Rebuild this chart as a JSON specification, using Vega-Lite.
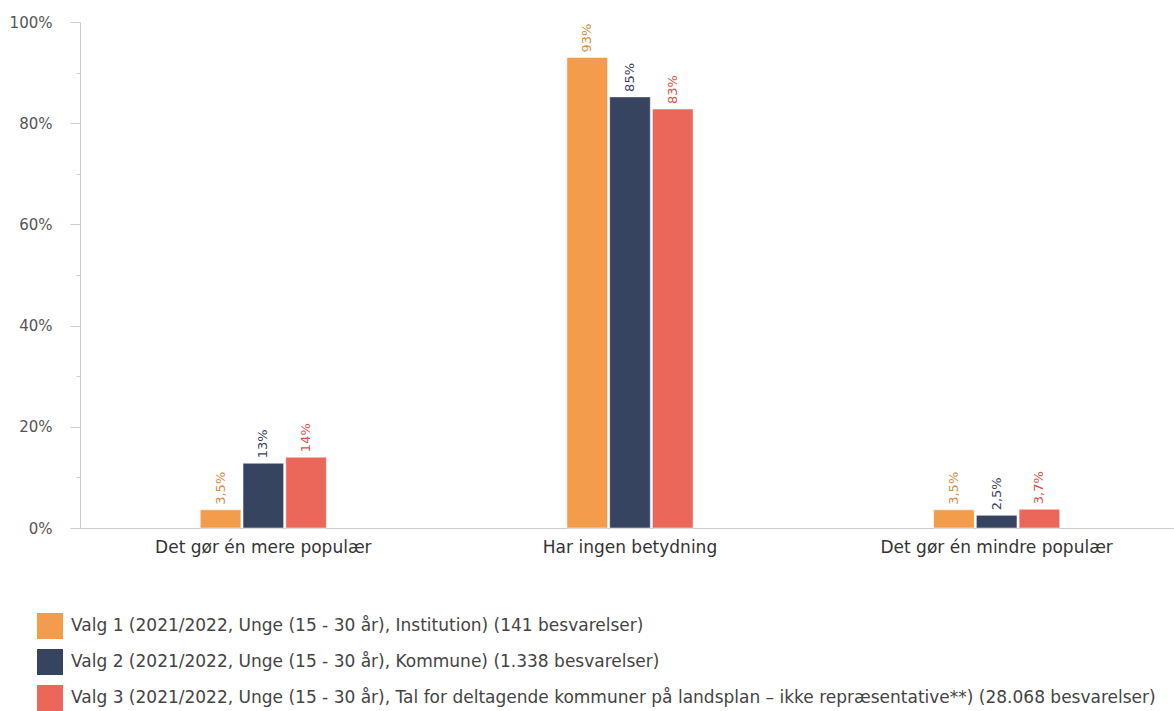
{
  "$schema": "https://vega.github.io/schema/vega-lite/v6.json",
  "width": 1100,
  "height": 506,
  "autosize": "none",
  "padding": {"left": 80, "top": 22, "right": 0, "bottom": 183},
  "background": "white",
  "config": {
    "font": "DejaVu Sans",
    "view": {"stroke": null},
    "axis": {"labelFont": "DejaVu Sans", "labelFontSize": 15, "labelColor": "#444444", "domainColor": "#cccccc", "tickColor": "#cccccc", "grid": false}
  },
  "data": {
    "values": [
      {"cat": "Det gør én mere populær", "series": "Valg 1 (2021/2022, Unge (15 - 30 år), Institution) (141 besvarelser)", "value": 0.036, "label": "3,5%"},
      {"cat": "Det gør én mere populær", "series": "Valg 2 (2021/2022, Unge (15 - 30 år), Kommune) (1.338 besvarelser)", "value": 0.128, "label": "13%"},
      {"cat": "Det gør én mere populær", "series": "Valg 3 (2021/2022, Unge (15 - 30 år), Tal for deltagende kommuner på landsplan – ikke repræsentative**) (28.068 besvarelser)", "value": 0.14, "label": "14%"},
      {"cat": "Har ingen betydning", "series": "Valg 1 (2021/2022, Unge (15 - 30 år), Institution) (141 besvarelser)", "value": 0.93, "label": "93%"},
      {"cat": "Har ingen betydning", "series": "Valg 2 (2021/2022, Unge (15 - 30 år), Kommune) (1.338 besvarelser)", "value": 0.852, "label": "85%"},
      {"cat": "Har ingen betydning", "series": "Valg 3 (2021/2022, Unge (15 - 30 år), Tal for deltagende kommuner på landsplan – ikke repræsentative**) (28.068 besvarelser)", "value": 0.828, "label": "83%"},
      {"cat": "Det gør én mindre populær", "series": "Valg 1 (2021/2022, Unge (15 - 30 år), Institution) (141 besvarelser)", "value": 0.036, "label": "3,5%"},
      {"cat": "Det gør én mindre populær", "series": "Valg 2 (2021/2022, Unge (15 - 30 år), Kommune) (1.338 besvarelser)", "value": 0.025, "label": "2,5%"},
      {"cat": "Det gør én mindre populær", "series": "Valg 3 (2021/2022, Unge (15 - 30 år), Tal for deltagende kommuner på landsplan – ikke repræsentative**) (28.068 besvarelser)", "value": 0.037, "label": "3,7%"}
    ]
  },
  "encoding": {
    "x": {
      "field": "cat", "type": "nominal", "sort": null,
      "scale": {"paddingInner": 0.656, "paddingOuter": 0.328},
      "axis": {"title": null, "labelAngle": 0, "ticks": false, "labelPadding": 11, "labelColor": "#333333", "labelFontSize": 17, "labelLimit": 400}
    },
    "xOffset": {"field": "series", "type": "nominal", "sort": null, "scale": {"paddingInner": 0.05}},
    "y": {
      "field": "value", "type": "quantitative",
      "scale": {"domain": [0, 1], "nice": false},
      "axis": {
        "title": null,
        "values": [0, 0.1, 0.2, 0.3, 0.4, 0.5, 0.6, 0.7, 0.8, 0.9, 1],
        "labelExpr": "round(datum.value*100) % 20 == 0 ? round(datum.value*100) + '%' : ''",
        "tickSize": {"condition": {"test": "round(datum.value*100) % 20 == 0", "value": 10}, "value": 4},
        "labelPadding": 18,
        "labelColor": "#555555"
      }
    }
  },
  "layer": [
    {
      "mark": {"type": "bar", "stroke": "#ffffff", "strokeWidth": 1, "strokeOpacity": 0.5},
      "encoding": {
        "color": {
          "field": "series", "type": "nominal", "sort": null,
          "scale": {"range": ["#F39C4C", "#37445F", "#EA675A"]},
          "legend": {
            "title": null, "orient": "none", "legendX": -43, "legendY": 591, "direction": "vertical",
            "symbolType": "square", "symbolSize": 676, "symbolStrokeWidth": 0, "symbolOpacity": 1,
            "labelFont": "DejaVu Sans", "labelFontSize": 17, "labelColor": "#444444", "labelOffset": 8,
            "rowPadding": 10, "labelLimit": 1200
          }
        }
      }
    },
    {
      "mark": {"type": "text", "angle": 270, "align": "left", "baseline": "middle", "dx": 5, "fontSize": 13, "font": "DejaVu Sans"},
      "encoding": {
        "text": {"field": "label"},
        "color": {
          "field": "series", "type": "nominal", "sort": null,
          "scale": {"range": ["#DC8B40", "#37445F", "#D9564A"]},
          "legend": null
        }
      }
    }
  ],
  "resolve": {"scale": {"color": "independent"}}
}
